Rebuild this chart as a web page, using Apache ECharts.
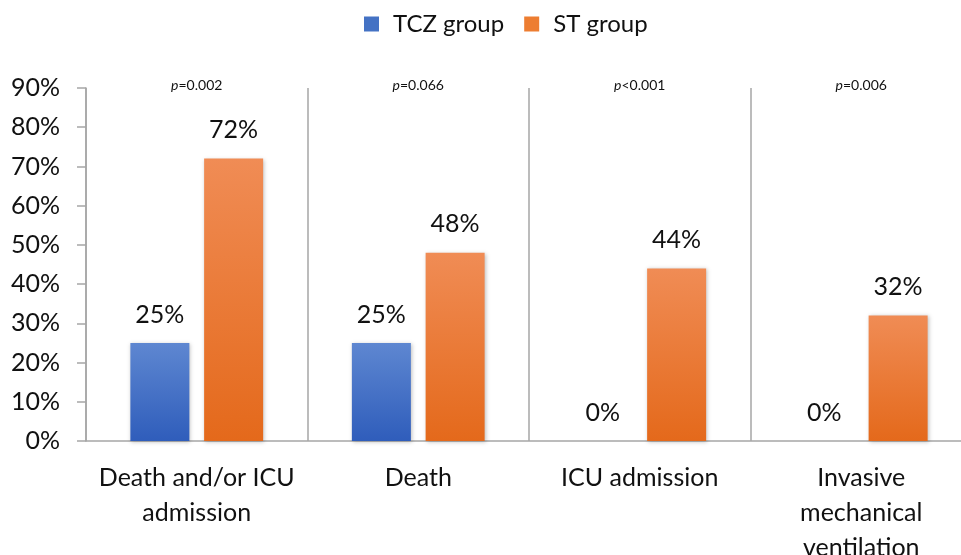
<!DOCTYPE html>
<html><head><meta charset="utf-8">
<script src="https://cdn.jsdelivr.net/npm/echarts@6/dist/echarts.min.js"></script>
<style>html,body{margin:0;padding:0;background:#fff}#c{width:961px;height:555px}</style>
</head><body><div id="c"></div>
<script>
const categories = ['Death and/or ICU\nadmission', 'Death', 'ICU admission', 'Invasive\nmechanical\nventilation'];
const pValues = ['=0.002', '=0.066', '<0.001', '=0.006'];
const tczValues = [25, 25, 0, 0];
const stValues = [72, 48, 44, 32];
const yTicks = [0, 10, 20, 30, 40, 50, 60, 70, 80, 90];

const FONT = 'Lato, "Open Sans", sans-serif';
const chart = echarts.init(document.getElementById('c'), null, {renderer: 'canvas'});
const grad = (a, b) => new echarts.graphic.LinearGradient(0, 0, 0, 1, [{offset: 0, color: a}, {offset: 1, color: b}]);
const labelCfg = {show: true, position: 'top', distance: 16, formatter: p => p.value + '%', fontSize: 25, color: '#111', fontFamily: FONT};

chart.setOption({
  animation: false,
  textStyle: {fontFamily: FONT},
  legend: {
    top: 7, left: 359, itemWidth: 15, itemHeight: 15, itemGap: 20,
    icon: 'rect',
    textStyle: {fontSize: 24, color: '#111', fontFamily: FONT, padding: [0, 0, 0, 9]},
    data: [{name: 'TCZ group', itemStyle: {color: '#4472C4'}}, {name: 'ST group', itemStyle: {color: '#ED7D31'}}]
  },
  grid: {left: 86, top: 88, right: -11, height: 353, containLabel: false, outerBoundsMode: 'none'},
  xAxis: [{
    type: 'category', data: categories, position: 'bottom',
    axisLine: {show: true, lineStyle: {color: '#a6a6a6', width: 1.5}},
    axisTick: {show: false},
    splitLine: {show: true, lineStyle: {color: '#a6a6a6', width: 1.5}},
    axisLabel: {fontSize: 25, color: '#111', margin: 19, lineHeight: 35, fontFamily: FONT, interval: 0}
  }, {
    type: 'category', data: pValues, position: 'top',
    axisLine: {show: false}, axisTick: {show: false}, splitLine: {show: false},
    axisLabel: {
      interval: 0, margin: -4,
      formatter: v => '{i|p}{n|' + v + '}',
      rich: {i: {fontStyle: 'italic', fontSize: 14, color: '#111', fontFamily: FONT}, n: {fontSize: 14, color: '#111', fontFamily: FONT}}
    }
  }],
  yAxis: {
    type: 'value', min: 0, max: 90, interval: 10,
    axisLine: {show: true, lineStyle: {color: '#a6a6a6', width: 1.5}},
    axisTick: {show: true, length: 9, lineStyle: {color: '#a6a6a6', width: 1.5}},
    splitLine: {show: false},
    axisLabel: {fontSize: 25, color: '#111', margin: 26, fontFamily: FONT,
      formatter: v => yTicks.includes(v) ? v + '%' : ''}
  },
  series: [{
    name: 'TCZ group', type: 'bar', data: tczValues, barWidth: 59, barGap: '25%',
    itemStyle: {color: grad('#5E87D1', '#2F5DBB'), shadowColor: 'rgba(0,0,0,0.25)', shadowBlur: 4, shadowOffsetX: 1, shadowOffsetY: 1},
    label: labelCfg
  }, {
    name: 'ST group', type: 'bar', data: stValues, barWidth: 59,
    itemStyle: {color: grad('#F08C55', '#E4691B'), shadowColor: 'rgba(0,0,0,0.25)', shadowBlur: 4, shadowOffsetX: 1, shadowOffsetY: 1},
    label: labelCfg
  }]
});
</script></body></html>
